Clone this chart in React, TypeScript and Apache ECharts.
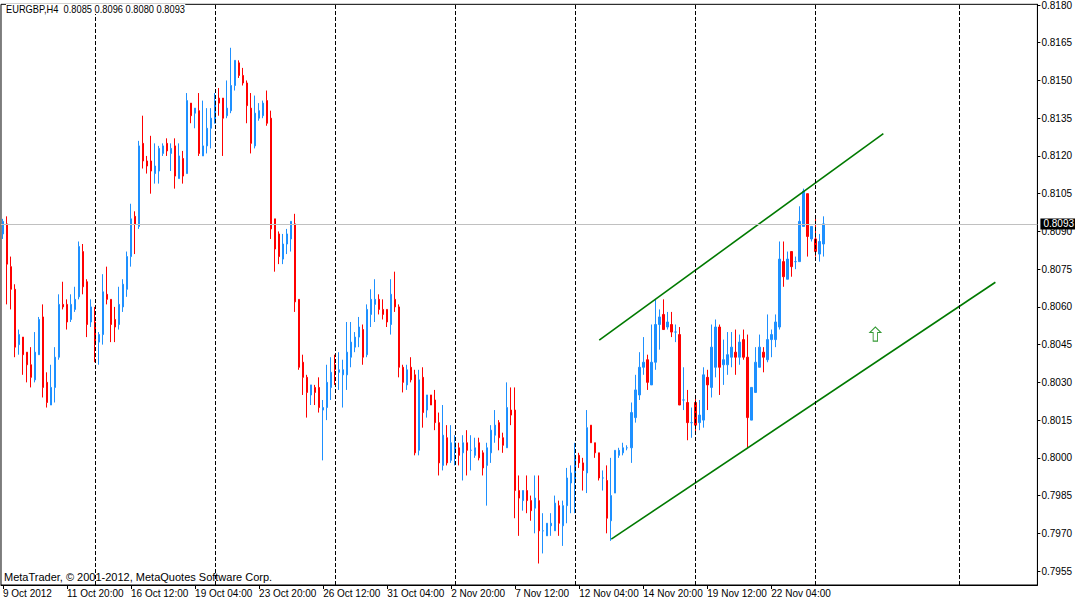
import React, { useEffect, useRef } from "react";
import * as echarts from "echarts";

// Each candle: [open, high, low, close]  (EURGBP, H4)
const week1Oct9 = [
  [0.8089, 0.8095, 0.8087, 0.8094], [0.8093, 0.8096, 0.8061, 0.8077], [0.8076, 0.8080, 0.8059, 0.8067],
  [0.8067, 0.8069, 0.8040, 0.8044], [0.8045, 0.8051, 0.8041, 0.8049], [0.8048, 0.8048, 0.8033, 0.8041],
  [0.8042, 0.8042, 0.8030, 0.8037], [0.8037, 0.8044, 0.8028, 0.8032], [0.8031, 0.8050, 0.8030, 0.8042],
  [0.8041, 0.8056, 0.8041, 0.8055], [0.8056, 0.8061, 0.8024, 0.8028], [0.8030, 0.8034, 0.8020, 0.8022],
  [0.8021, 0.8037, 0.8021, 0.8028], [0.8028, 0.8044, 0.8022, 0.8040], [0.8040, 0.8065, 0.8039, 0.8061],
  [0.8061, 0.8070, 0.8059, 0.8060], [0.8061, 0.8063, 0.8051, 0.8054], [0.8055, 0.8065, 0.8054, 0.8061],
  [0.8059, 0.8068, 0.8058, 0.8063], [0.8064, 0.8086, 0.8063, 0.8084], [0.8082, 0.8085, 0.8065, 0.8068],
  [0.8070, 0.8071, 0.8048, 0.8053], [0.8054, 0.8063, 0.8052, 0.8060],
];
const week2Oct15 = [
  [0.8054, 0.8060, 0.8038, 0.8045], [0.8046, 0.8050, 0.8037, 0.8049], [0.8049, 0.8073, 0.8045, 0.8066],
  [0.8065, 0.8076, 0.8061, 0.8063], [0.8063, 0.8063, 0.8046, 0.8053], [0.8055, 0.8060, 0.8046, 0.8052],
  [0.8053, 0.8068, 0.8051, 0.8061], [0.8060, 0.8071, 0.8058, 0.8069], [0.8067, 0.8082, 0.8064, 0.8080],
  [0.8080, 0.8101, 0.8076, 0.8095], [0.8096, 0.8098, 0.8081, 0.8093], [0.8092, 0.8126, 0.8091, 0.8124],
  [0.8125, 0.8136, 0.8115, 0.8118], [0.8118, 0.8120, 0.8113, 0.8116], [0.8118, 0.8128, 0.8105, 0.8114],
  [0.8113, 0.8125, 0.8109, 0.8116], [0.8114, 0.8124, 0.8109, 0.8123], [0.8121, 0.8125, 0.8120, 0.8124],
  [0.8125, 0.8127, 0.8120, 0.8122], [0.8121, 0.8125, 0.8114, 0.8123], [0.8124, 0.8127, 0.8107, 0.8112],
  [0.8111, 0.8125, 0.8111, 0.8120], [0.8119, 0.8122, 0.8109, 0.8112], [0.8113, 0.8145, 0.8113, 0.8142],
  [0.8141, 0.8141, 0.8133, 0.8136], [0.8137, 0.8139, 0.8131, 0.8139], [0.8138, 0.8145, 0.8120, 0.8121],
  [0.8120, 0.8142, 0.8120, 0.8124], [0.8124, 0.8139, 0.8121, 0.8131], [0.8131, 0.8139, 0.8123, 0.8135],
];
const week3Oct22 = [
  [0.8133, 0.8145, 0.8133, 0.8142], [0.8143, 0.8147, 0.8136, 0.8141], [0.8143, 0.8143, 0.8120, 0.8135],
  [0.8136, 0.8150, 0.8135, 0.8139], [0.8138, 0.8163, 0.8137, 0.8148], [0.8148, 0.8158, 0.8146, 0.8158],
  [0.8157, 0.8158, 0.8151, 0.8152], [0.8152, 0.8155, 0.8148, 0.8149], [0.8149, 0.8150, 0.8133, 0.8140],
  [0.8139, 0.8145, 0.8121, 0.8125], [0.8124, 0.8144, 0.8123, 0.8137], [0.8135, 0.8141, 0.8134, 0.8138],
  [0.8136, 0.8142, 0.8135, 0.8141], [0.8142, 0.8146, 0.8132, 0.8133], [0.8135, 0.8138, 0.8087, 0.8091],
  [0.8095, 0.8095, 0.8074, 0.8083], [0.8089, 0.8090, 0.8077, 0.8080], [0.8079, 0.8089, 0.8077, 0.8085],
  [0.8085, 0.8091, 0.8081, 0.8089], [0.8087, 0.8094, 0.8082, 0.8094], [0.8093, 0.8097, 0.8058, 0.8062],
  [0.8063, 0.8063, 0.8035, 0.8036], [0.8038, 0.8041, 0.8025, 0.8032], [0.8032, 0.8033, 0.8016, 0.8026],
  [0.8025, 0.8029, 0.8021, 0.8029], [0.8028, 0.8029, 0.8021, 0.8026], [0.8028, 0.8032, 0.8018, 0.8020],
  [0.8019, 0.8023, 0.7999, 0.8020], [0.8020, 0.8037, 0.8015, 0.8030], [0.8028, 0.8040, 0.8023, 0.8034],
];
const week4Oct29 = [
  [0.8037, 0.8041, 0.8029, 0.8035], [0.8034, 0.8042, 0.8027, 0.8035], [0.8033, 0.8039, 0.8020, 0.8035],
  [0.8033, 0.8054, 0.8027, 0.8042], [0.8040, 0.8054, 0.8036, 0.8046], [0.8044, 0.8050, 0.8042, 0.8048],
  [0.8048, 0.8056, 0.8044, 0.8052], [0.8051, 0.8053, 0.8037, 0.8040], [0.8041, 0.8061, 0.8040, 0.8059],
  [0.8057, 0.8067, 0.8052, 0.8063], [0.8061, 0.8071, 0.8054, 0.8063], [0.8063, 0.8065, 0.8057, 0.8059],
  [0.8059, 0.8063, 0.8055, 0.8057], [0.8059, 0.8059, 0.8052, 0.8054], [0.8053, 0.8071, 0.8049, 0.8065],
  [0.8063, 0.8074, 0.8058, 0.8060], [0.8060, 0.8061, 0.8032, 0.8036], [0.8036, 0.8037, 0.8026, 0.8030],
  [0.8029, 0.8037, 0.8027, 0.8035], [0.8036, 0.8040, 0.8030, 0.8031], [0.8033, 0.8035, 0.8001, 0.8002],
  [0.8003, 0.8035, 0.8001, 0.8031], [0.8032, 0.8036, 0.8012, 0.8018], [0.8019, 0.8025, 0.8016, 0.8025],
  [0.8025, 0.8025, 0.8021, 0.8021], [0.8023, 0.8027, 0.8011, 0.8014], [0.8014, 0.8018, 0.7993, 0.7998],
  [0.7997, 0.8021, 0.7995, 0.8009], [0.8008, 0.8013, 0.7997, 0.7998], [0.7999, 0.8013, 0.7998, 0.8006],
];
const week5Nov5 = [
  [0.8003, 0.8009, 0.7997, 0.8006], [0.8004, 0.8006, 0.7997, 0.8001], [0.8002, 0.8009, 0.7991, 0.8006],
  [0.8006, 0.8011, 0.7993, 0.8003], [0.8003, 0.8009, 0.7995, 0.8003], [0.8001, 0.8008, 0.8000, 0.8004],
  [0.8006, 0.8008, 0.7999, 0.8000], [0.8002, 0.8003, 0.7993, 0.7996], [0.7997, 0.8006, 0.7981, 0.8004],
  [0.8002, 0.8013, 0.7998, 0.8011], [0.8009, 0.8019, 0.8006, 0.8013], [0.8014, 0.8015, 0.8003, 0.8008],
  [0.8008, 0.8010, 0.8002, 0.8005], [0.8004, 0.8030, 0.8004, 0.8020], [0.8019, 0.8028, 0.8013, 0.8017],
  [0.8019, 0.8028, 0.7976, 0.7987], [0.7987, 0.7993, 0.7969, 0.7984], [0.7983, 0.7987, 0.7979, 0.7987],
  [0.7987, 0.7993, 0.7978, 0.7983], [0.7983, 0.7985, 0.7975, 0.7979], [0.7980, 0.7993, 0.7970, 0.7984],
  [0.7983, 0.7993, 0.7958, 0.7971], [0.7971, 0.7978, 0.7962, 0.7971], [0.7969, 0.7974, 0.7969, 0.7974],
  [0.7973, 0.7978, 0.7969, 0.7974], [0.7971, 0.7985, 0.7971, 0.7982], [0.7981, 0.7983, 0.7969, 0.7974],
  [0.7973, 0.7983, 0.7965, 0.7981], [0.7981, 0.7996, 0.7974, 0.7992], [0.7990, 0.7997, 0.7978, 0.7994],
];
const week6Nov12 = [
  [0.7991, 0.8006, 0.7978, 0.8000], [0.8001, 0.8002, 0.7996, 0.7998], [0.7998, 0.8000, 0.7987, 0.7995],
  [0.7994, 0.8019, 0.7986, 0.8012], [0.8013, 0.8013, 0.8006, 0.8006], [0.8006, 0.8006, 0.8000, 0.8002],
  [0.8002, 0.8002, 0.7991, 0.7992], [0.7992, 0.7995, 0.7987, 0.7992], [0.7991, 0.7997, 0.7970, 0.7976],
  [0.7975, 0.8000, 0.7967, 0.7985], [0.7986, 0.8003, 0.7986, 0.8003], [0.8001, 0.8004, 0.8000, 0.8003],
  [0.8002, 0.8006, 0.8001, 0.8004], [0.8004, 0.8005, 0.8003, 0.8004], [0.8004, 0.8022, 0.7998, 0.8018],
  [0.8016, 0.8033, 0.8014, 0.8027], [0.8025, 0.8042, 0.8023, 0.8036], [0.8036, 0.8048, 0.8033, 0.8038],
  [0.8039, 0.8041, 0.8027, 0.8030], [0.8029, 0.8053, 0.8029, 0.8038], [0.8038, 0.8063, 0.8035, 0.8053],
  [0.8053, 0.8059, 0.8043, 0.8056], [0.8057, 0.8063, 0.8051, 0.8051], [0.8052, 0.8058, 0.8051, 0.8054],
  [0.8053, 0.8058, 0.8048, 0.8050], [0.8050, 0.8053, 0.8046, 0.8050], [0.8049, 0.8052, 0.8021, 0.8021],
  [0.8023, 0.8036, 0.8019, 0.8023], [0.8022, 0.8027, 0.8007, 0.8014], [0.8014, 0.8020, 0.8008, 0.8014],
];
const week7Nov19 = [
  [0.8022, 0.8025, 0.8010, 0.8013], [0.8014, 0.8023, 0.8011, 0.8017], [0.8015, 0.8036, 0.8012, 0.8033],
  [0.8032, 0.8035, 0.8019, 0.8029], [0.8028, 0.8053, 0.8024, 0.8044], [0.8036, 0.8055, 0.8032, 0.8052],
  [0.8052, 0.8053, 0.8025, 0.8036], [0.8037, 0.8047, 0.8029, 0.8039], [0.8037, 0.8050, 0.8033, 0.8041],
  [0.8040, 0.8050, 0.8036, 0.8044], [0.8042, 0.8051, 0.8033, 0.8040], [0.8040, 0.8049, 0.8037, 0.8046],
  [0.8047, 0.8051, 0.8039, 0.8040], [0.8040, 0.8049, 0.8004, 0.8016], [0.8015, 0.8028, 0.8015, 0.8028],
  [0.8026, 0.8044, 0.8026, 0.8038], [0.8036, 0.8049, 0.8036, 0.8044], [0.8042, 0.8044, 0.8034, 0.8040],
  [0.8039, 0.8057, 0.8038, 0.8047], [0.8047, 0.8051, 0.8040, 0.8049], [0.8047, 0.8057, 0.8044, 0.8054],
  [0.8052, 0.8086, 0.8051, 0.8079], [0.8078, 0.8086, 0.8068, 0.8072], [0.8071, 0.8082, 0.8071, 0.8079],
  [0.8082, 0.8082, 0.8072, 0.8076], [0.8078, 0.8080, 0.8075, 0.8078], [0.8078, 0.8100, 0.8078, 0.8094],
  [0.8092, 0.8107, 0.8092, 0.8106], [0.8105, 0.8105, 0.8080, 0.8088], [0.8087, 0.8092, 0.8086, 0.8092],
];
const week8Nov26 = [
  [0.8087, 0.8096, 0.8080, 0.8082], [0.8081, 0.8089, 0.8078, 0.8086], [0.8085, 0.8096, 0.8080, 0.8093],
];

// x-axis date labels, one every 16 bars
const tickLabels = [
  "9 Oct 2012", "11 Oct 20:00", "16 Oct 12:00", "19 Oct 04:00", "23 Oct 20:00", "26 Oct 12:00",
  "31 Oct 04:00", "2 Nov 20:00", "7 Nov 12:00", "12 Nov 04:00", "14 Nov 20:00", "19 Nov 12:00", "22 Nov 04:00",
];
const labelStep = 16;
// weekly period separators (bar index)
const separatorBars = [23, 53, 83, 113, 143, 173, 203, 239];
// price scale labels
const yTicks = [
  0.7955, 0.797, 0.7985, 0.8, 0.8015, 0.803, 0.8045, 0.806, 0.8075, 0.809, 0.8105, 0.812, 0.8135, 0.815,
  0.8165, 0.818,
];
// drawn objects: channel lines [barIndex, price], arrow, bid
const upperChannel = [[149, 0.80468], [220, 0.81289]];
const lowerChannel = [[152, 0.79677], [248, 0.80698]];
const arrowPoint = [[218, 0.80492]];
const bidPrice = 0.8093;
const headerText = "EURGBP,H4  0.8085 0.8096 0.8080 0.8093";
const footerText = "MetaTrader, © 2001-2012, MetaQuotes Software Corp.";

const TOTAL_SLOTS = 259;
const Y_MIN = 0.794946;
const Y_MAX = 0.818027;
const FONT = "'Liberation Sans', Arial, sans-serif";

export default function App() {
  const ref = useRef<HTMLDivElement>(null);
  useEffect(() => {
    if (!ref.current) return;
    const chart = echarts.init(ref.current, undefined, { renderer: "svg" });
    const bars = [
      ...week1Oct9, ...week2Oct15, ...week3Oct22, ...week4Oct29,
      ...week5Nov5, ...week6Nov12, ...week7Nov19, ...week8Nov26,
    ];
    const candles = bars.map(([o, h, l, c]) => [o, c, l, h]);
    const categories = Array.from({ length: TOTAL_SLOTS }, (_, i) => String(i));
    const tickInterval = (i: number) => i % labelStep === 0 && i / labelStep < tickLabels.length;

    chart.setOption({
      animation: false,
      backgroundColor: "#fff",
      textStyle: { fontFamily: FONT },
      grid: { left: 0.5, right: 37.5, top: 2, bottom: 17, show: true, borderColor: "#000", borderWidth: 1 },
      xAxis: {
        type: "category",
        data: categories,
        boundaryGap: true,
        axisLine: { show: true, lineStyle: { color: "#000", width: 1 } },
        axisTick: { show: true, alignWithLabel: true, interval: tickInterval, length: 4, lineStyle: { color: "#000" } },
        axisLabel: {
          interval: tickInterval,
          formatter: (_v: string, i: number) => tickLabels[i / labelStep] ?? "",
          align: "left",
          margin: 3,
          fontSize: 10,
          color: "#000",
          fontFamily: FONT,
        },
        splitLine: { show: false },
      },
      yAxis: {
        type: "value",
        position: "right",
        min: Y_MIN,
        max: Y_MAX,
        axisLine: { show: true, lineStyle: { color: "#000" } },
        axisTick: { show: true, length: 3, customValues: yTicks, lineStyle: { color: "#000" } },
        axisLabel: {
          customValues: yTicks,
          formatter: (v: number) => v.toFixed(4),
          margin: 4,
          fontSize: 10,
          color: "#000",
          fontFamily: FONT,
        },
        splitLine: { show: false },
      },
      graphic: [
        {
          type: "text",
          left: 6,
          top: 4,
          z: 100,
          scaleX: 0.93,
          style: { text: headerText, fontSize: 10, fontFamily: FONT, fill: "#000", backgroundColor: "#fff" },
        },
        {
          type: "text",
          left: 4,
          top: 571,
          z: 100,
          style: { text: footerText, fontSize: 11, fontFamily: FONT, fill: "#000" },
        },
      ],
      series: [
        {
          type: "candlestick",
          data: candles,
          barWidth: 2,
          itemStyle: {
            color: "#1E90FF",
            color0: "#FF0000",
            borderColor: "#1E90FF",
            borderColor0: "#FF0000",
            borderWidth: 1,
          },
          silent: true,
        },
        {
          type: "line",
          data: upperChannel,
          showSymbol: false,
          clip: false,
          silent: true,
          lineStyle: { color: "#007a00", width: 1.6 },
          markLine: {
            silent: true,
            precision: 6,
            symbol: ["none", "none"],
            label: { show: false },
            lineStyle: { color: "#000", type: [4, 2], width: 1 },
            data: [
              ...separatorBars.map((b) => ({ xAxis: b })),
              {
                yAxis: bidPrice,
                lineStyle: { color: "#C0C0C0", type: "solid", width: 1 },
                label: {
                  show: true,
                  position: "end",
                  formatter: bidPrice.toFixed(4),
                  backgroundColor: "#000",
                  color: "#fff",
                  padding: [1, 3, 0, 3],
                  fontSize: 10,
                  fontFamily: FONT,
                  distance: 3,
                },
              },
            ],
          },
        },
        {
          type: "line",
          data: lowerChannel,
          showSymbol: false,
          silent: true,
          lineStyle: { color: "#007a00", width: 1.6 },
        },
        {
          type: "scatter",
          data: arrowPoint,
          symbol: "path://M5,0L10,5L7,5L7,13L3,13L3,5L0,5Z",
          symbolSize: [11, 14],
          silent: true,
          itemStyle: { color: "#fff", borderColor: "#008000", borderWidth: 1 },
        },
      ],
    });
    return () => chart.dispose();
  }, []);
  return (
    <div
      ref={ref}
      style={{ position: "fixed", left: 0, top: 0, width: 1075, height: 602, background: "#fff" }}
    />
  );
}
